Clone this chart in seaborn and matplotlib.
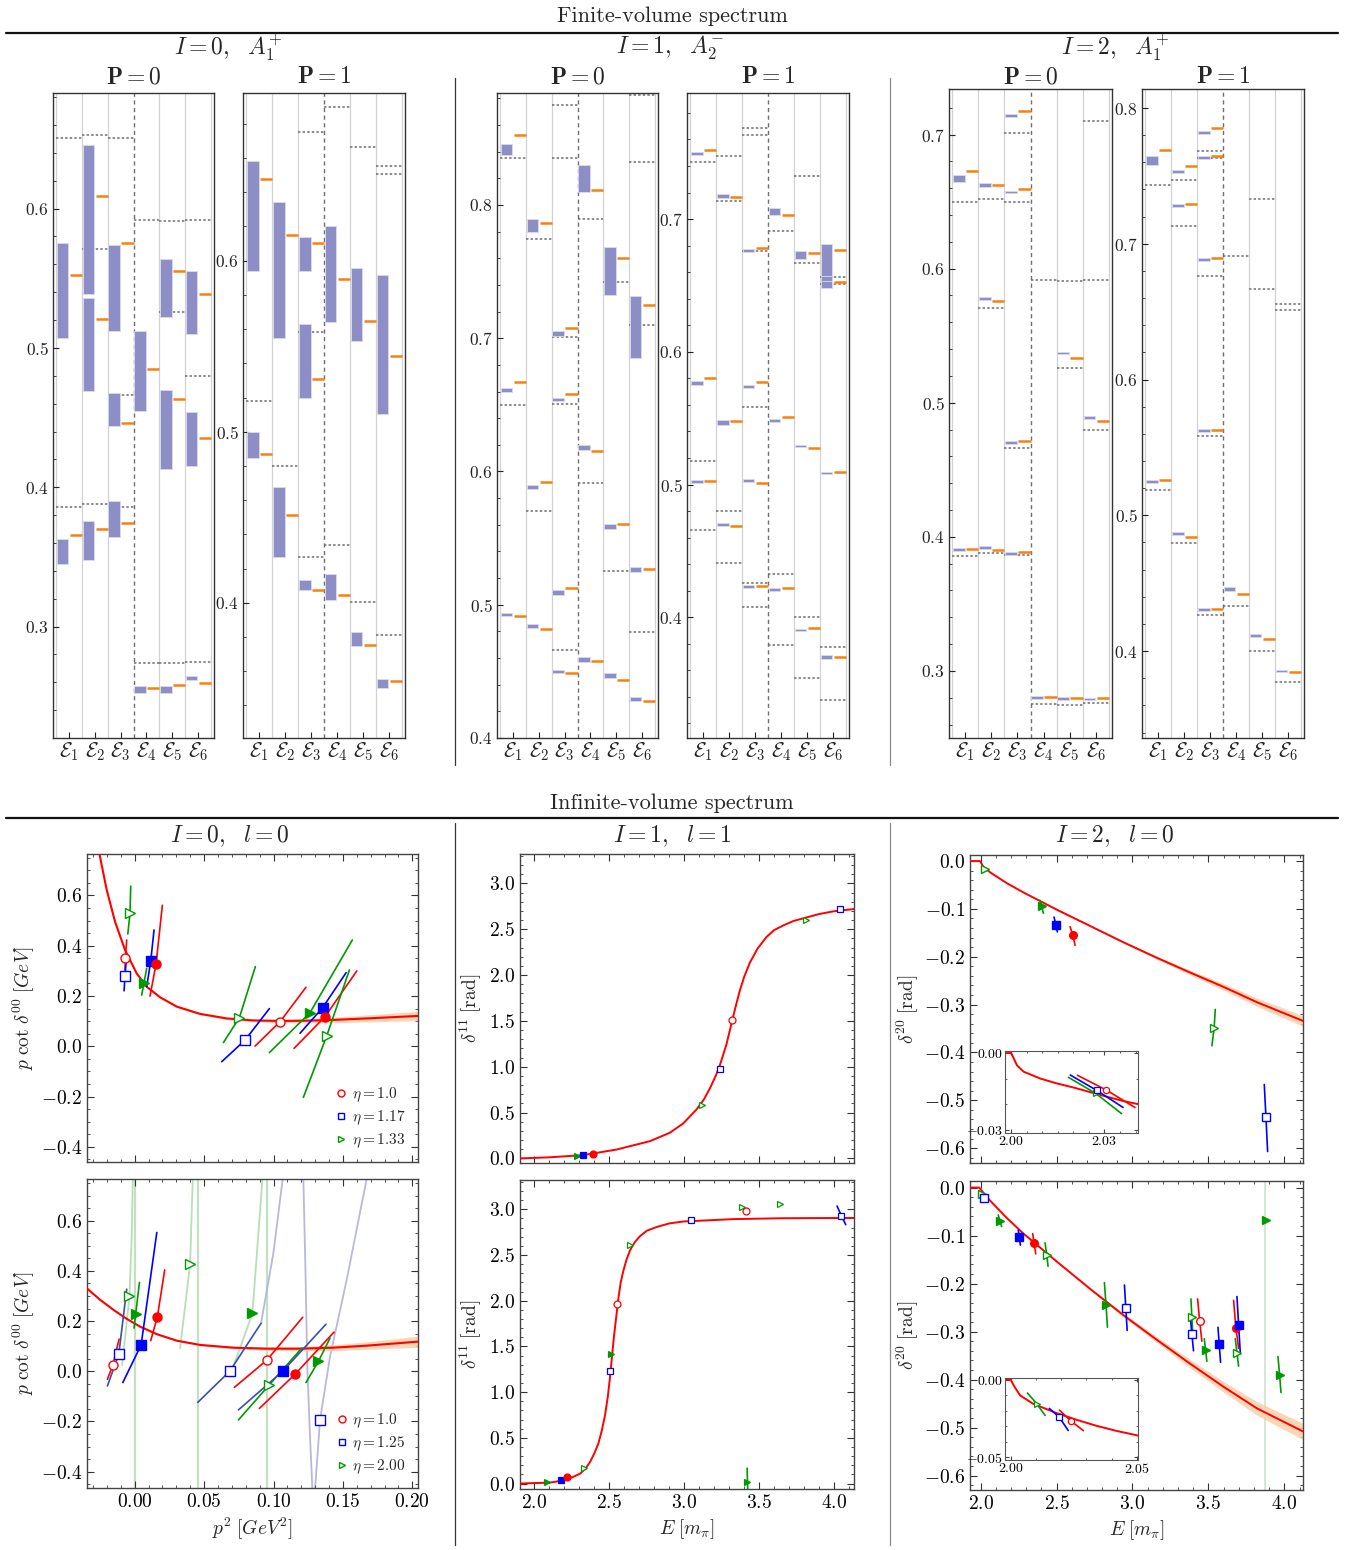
import numpy as np
import matplotlib
matplotlib.use('Agg')
import matplotlib.pyplot as plt
from matplotlib.ticker import MultipleLocator, FuncFormatter, FixedLocator
from matplotlib.lines import Line2D
import seaborn as sns

# ------------------------------------------------------------------
# Finite-volume spectrum: lattice boxes (column, low, high),
# fitted levels (column, value) and free levels (column, value)
# ------------------------------------------------------------------
i0p0_box = [(1, .507, .575), (1, .345, .363),
            (2, .539, .646), (2, .469, .536), (2, .348, .376),
            (3, .512, .574), (3, .444, .468), (3, .364, .390),
            (4, .455, .512), (4, .2525, .257),
            (5, .522, .564), (5, .413, .470), (5, .252, .257),
            (6, .510, .555), (6, .415, .454), (6, .2614, .2643)]
i0p0_fit = [(1, .552), (1, .366), (2, .609), (2, .521), (2, .370),
            (3, .575), (3, .446), (3, .374), (4, .485), (4, .2556),
            (5, .555), (5, .463), (5, .258), (6, .539), (6, .435), (6, .2595)]
i0p0_free = [(1, .651), (1, .386), (2, .6525), (2, .571), (2, .388),
             (3, .651), (3, .466), (3, .386), (4, .592), (4, .274),
             (5, .591), (5, .526), (5, .2736), (6, .592), (6, .480), (6, .2748)]

i0p1_box = [(1, .594, .658), (1, .4846, .500),
            (2, .555, .634), (2, .427, .468),
            (3, .594, .614), (3, .5196, .5632), (3, .4073, .4136),
            (4, .564, .620), (4, .4017, .4171),
            (5, .553, .596), (5, .3748, .383),
            (6, .5105, .5914), (6, .3503, .3556)]
i0p1_fit = [(1, .648), (1, .487), (2, .615), (2, .4513), (3, .6105), (3, .531),
            (3, .4075), (4, .589), (4, .4046), (5, .5646), (5, .3754),
            (6, .5441), (6, .3542)]
i0p1_free = [(1, .518), (2, .480), (3, .675), (3, .5584), (3, .4266),
             (4, .690), (4, .4338), (5, .6664), (5, .4007),
             (6, .6556), (6, .6506), (6, .3811)]

i1p0_box = [(1, .8374, .8456), (1, .6595, .6626), (1, .4912, .4939),
            (2, .7796, .7898), (2, .587, .5901), (2, .4827, .4854),
            (3, .7014, .7054), (3, .653, .6554), (3, .5071, .5109), (3, .4488, .4508),
            (4, .8095, .8303), (4, .6163, .6197), (4, .4571, .4609),
            (5, .7327, .7687), (5, .5565, .5609), (5, .4449, .449),
            (6, .6854, .7316), (6, .5245, .5286), (6, .4279, .4306)]
i1p0_fit = [(1, .8527), (1, .667), (1, .4912), (2, .7867), (2, .5918), (2, .4816),
            (3, .7075), (3, .6582), (3, .5122), (3, .449), (4, .8112), (4, .6156),
            (4, .4575), (5, .7605), (5, .5605), (5, .4435), (6, .7248), (6, .5265),
            (6, .4276)]
i1p0_free = [(1, .835), (1, .650), (2, .7748), (2, .5707),
             (3, .8752), (3, .8354), (3, .701), (3, .6503), (3, .466),
             (4, .7898), (4, .5912), (5, .7422), (5, .5255),
             (6, .8823), (6, .8323), (6, .7102), (6, .4793)]

i1p1_box = [(1, .748, .7507), (1, .575, .5778), (1, .5012, .5032),
            (2, .7157, .7191), (2, .5451, .5485), (2, .4687, .4707),
            (3, .6755, .6775), (3, .5727, .5747), (3, .5022, .5042), (3, .4222, .4242),
            (4, .7031, .7085), (4, .5471, .5495), (4, .4201, .4222),
            (5, .670, .6758), (5, .528, .5301), (5, .3895, .3915),
            (6, .6479, .6813), (6, .653, .6571), (6, .508, .5097), (6, .3687, .3714)]
i1p1_fit = [(1, .7524), (1, .5801), (1, .5029), (2, .717), (2, .5478), (2, .4688),
            (3, .6782), (3, .5771), (3, .5015), (3, .4232), (4, .7034), (4, .5505),
            (4, .4218), (5, .6748), (5, .5274), (5, .3922), (6, .6768), (6, .6523),
            (6, .5093), (6, .3704)]
i1p1_free = [(1, .7429), (1, .5178), (1, .4657), (2, .7477), (2, .7136), (2, .4797),
             (2, .4409), (3, .7688), (3, .7633), (3, .6758), (3, .5584), (3, .4259),
             (3, .4075), (4, .6908), (4, .4327), (4, .3793), (5, .7327), (5, .667),
             (5, .40), (5, .3544), (6, .6564), (6, .651), (6, .3776), (6, .3377)]

i2p0_box = [(1, .6646, .6697), (1, .3894, .3915),
            (2, .6612, .6636), (2, .5763, .5787), (2, .3911, .3932),
            (3, .7128, .7152), (3, .6562, .6582), (3, .4696, .4717), (3, .3867, .3888),
            (4, .2791, .2815), (5, .5362, .5382), (5, .2784, .2808),
            (6, .488, .4901), (6, .2781, .2801)]
i2p0_fit = [(1, .673), (1, .3906), (2, .6626), (2, .5757), (2, .3903),
            (3, .7179), (3, .6596), (3, .4712), (3, .3886), (4, .2805),
            (5, .5332), (5, .2801), (6, .4867), (6, .2795)]
i2p0_free = [(1, .6498), (1, .3856), (2, .6518), (2, .5709), (2, .3883),
             (3, .701), (3, .6501), (3, .4661), (3, .3863), (4, .5912), (4, .2754),
             (5, .5905), (5, .5258), (5, .2744), (6, .7101), (6, .5915), (6, .4796),
             (6, .2761)]

i2p1_box = [(1, .7577, .7647), (1, .5237, .5257),
            (2, .7523, .7547), (2, .7273, .7293), (2, .4855, .4875),
            (3, .7807, .7827), (3, .7623, .7643), (3, .6872, .6892), (3, .5615, .5635),
            (3, .4295, .4315), (4, .4443, .447), (5, .4105, .4125), (6, .3843, .3863)]
i2p1_fit = [(1, .7693), (1, .5257), (2, .757), (2, .7293), (2, .4843),
            (3, .785), (3, .7643), (3, .6897), (3, .5627), (3, .4307),
            (4, .442), (5, .4087), (6, .3843)]
i2p1_free = [(1, .743), (1, .5183), (2, .7473), (2, .7133), (2, .4797),
             (3, .768), (3, .7633), (3, .676), (3, .5587), (3, .4267),
             (4, .6907), (4, .4333), (5, .7327), (5, .6667), (5, .4003),
             (6, .656), (6, .651), (6, .3773)]

eps_labels = [r'$\mathcal{E}_{%d}$' % k for k in range(1, 7)]

# ------------------------------------------------------------------
# Infinite-volume spectrum
# points: (x, y, series, filled); segments: (xa, ya, xb, yb[, colour]) or None
# ------------------------------------------------------------------
# I=0, l=0 (upper)
s00a_fit_x = [-0.0255, -0.0202, -0.0142, -0.0070, 0.0014, 0.0086, 0.0183, 0.0303,
              0.0471, 0.0663, 0.0855, 0.1047, 0.1239, 0.1431, 0.1671, 0.2044]
s00a_fit_y = [0.767, 0.622, 0.496, 0.383, 0.290, 0.237, 0.195, 0.158,
              0.129, 0.111, 0.103, 0.101, 0.102, 0.105, 0.111, 0.121]
s00a_fit_e = [0.0, 0.0, 0.001, 0.002, 0.002, 0.003, 0.003, 0.004,
              0.004, 0.005, 0.006, 0.007, 0.009, 0.011, 0.014, 0.019]
s00a_pts = [(-0.0034, 0.529, 'g', False), (-0.0067, 0.353, 'r', False),
            (-0.0070, 0.280, 'b', False), (0.0115, 0.338, 'b', True),
            (0.0154, 0.329, 'r', True), (0.0067, 0.253, 'g', True),
            (0.0754, 0.114, 'g', False), (0.0795, 0.025, 'b', False),
            (0.1047, 0.098, 'r', False), (0.1263, 0.134, 'g', True),
            (0.1354, 0.154, 'b', True), (0.1371, 0.118, 'r', True),
            (0.1383, 0.041, 'g', False)]
s00a_seg = [(-0.0050, 0.447, -0.0029, 0.637), (-0.0070, 0.304, -0.0058, 0.423),
            (-0.0077, 0.221, -0.0062, 0.337), (0.0086, 0.237, 0.0139, 0.463),
            (0.0110, 0.200, 0.0199, 0.561), (0.0050, 0.204, 0.0086, 0.310),
            (0.0639, 0.015, 0.0869, 0.317), (0.0627, -0.061, 0.0970, 0.150),
            (0.0867, 0.001, 0.1234, 0.235), (0.0970, -0.025, 0.1568, 0.423),
            (0.1191, 0.052, 0.1523, 0.293), (0.1148, -0.008, 0.1600, 0.300),
            (0.1215, -0.203, 0.1547, 0.304)]
s00a_eta = [r'$\eta=1.0$', r'$\eta=1.17$', r'$\eta=1.33$']

# I=0, l=0 (lower)
s00b_fit_x = [-0.0346, -0.025, -0.0154, -0.0058, 0.0038, 0.0159, 0.0303, 0.0471,
              0.0711, 0.0951, 0.119, 0.143, 0.167, 0.204]
s00b_fit_y = [0.331, 0.285, 0.245, 0.209, 0.178, 0.148, 0.122, 0.105,
              0.094, 0.090, 0.090, 0.094, 0.102, 0.118]
s00b_fit_e = [0.002, 0.002, 0.002, 0.002, 0.002, 0.003, 0.003, 0.004,
              0.005, 0.007, 0.009, 0.012, 0.015, 0.022]
s00b_pts = [(-0.0156, 0.027, 'r', False), (-0.0115, 0.068, 'b', False),
            (-0.0038, 0.299, 'g', False), (0.0007, 0.229, 'g', True),
            (0.0046, 0.105, 'b', True), (0.0163, 0.217, 'r', True),
            (0.0399, 0.427, 'g', False), (0.0684, 0.000, 'b', False),
            (0.0848, 0.231, 'g', True), (0.0953, 0.045, 'r', False),
            (0.0968, -0.055, 'g', False), (0.1066, 0.000, 'b', True),
            (0.1155, -0.012, 'r', True), (0.1323, 0.039, 'g', True),
            (0.1335, -0.194, 'b', False)]
s00b_seg = [(-0.0197, -0.032, -0.0113, 0.128), (-0.0197, -0.0585, -0.0058, 0.327, '#3a4fa8'),
            None, (-0.0005, 0.172, 0.0034, 0.354),
            (-0.0086, -0.045, 0.0159, 0.553), (0.0115, 0.122, 0.0216, 0.404),
            None, (0.0454, -0.124, 0.0910, 0.191, '#3a4fa8'),
            None, (0.0718, -0.064, 0.1210, 0.215),
            (0.0747, -0.194, 0.1203, 0.092), (0.0747, -0.154, 0.1378, 0.1875, '#3a4fa8'),
            (0.0898, -0.148, 0.1436, 0.156), (0.1234, -0.045, 0.1407, 0.132),
            None]
s00b_eta = [r'$\eta=1.0$', r'$\eta=1.25$', r'$\eta=2.00$']
s00b_pole_x = [0.0, 0.0459, 0.0956]
s00b_pale_green = [([-0.0091, -0.0038, -0.0022, -0.0014], [0.025, 0.299, 0.537, 0.766]),
                   ([0.0327, 0.0399, 0.0418], [0.092, 0.427, 0.766]),
                   ([0.0711, 0.0848, 0.0920], [0.019, 0.231, 0.766])]
s00b_pale_blue = [([0.0910, 0.0999, 0.1066], [0.191, 0.471, 0.766]),
                  ([0.1215, 0.1230, 0.1244, 0.1263, 0.1280], [0.766, 0.404, 0.005, -0.261, -0.47]),
                  ([0.1299, 0.1335, 0.1407, 0.1527, 0.1671], [-0.47, -0.194, 0.0585, 0.364, 0.766])]

# I=1, l=1
s11a_fit_x = [1.904, 2.10, 2.327, 2.549, 2.771, 2.904, 2.993, 3.082, 3.13, 3.171, 3.21,
              3.238, 3.26, 3.282, 3.305, 3.327, 3.35, 3.371, 3.40, 3.438, 3.49, 3.549,
              3.60, 3.66, 3.73, 3.816, 3.90, 3.993, 4.133]
s11a_fit_y = [0.0, 0.012, 0.036, 0.097, 0.188, 0.28, 0.381, 0.534, 0.64, 0.763, 0.90,
              1.017, 1.13, 1.246, 1.40, 1.55, 1.70, 1.83, 1.98, 2.135, 2.29, 2.415,
              2.49, 2.54, 2.59, 2.628, 2.665, 2.694, 2.72]
s11a_pts = [(2.282, 0.025, 'g', True), (2.322, 0.036, 'b', True), (2.393, 0.046, 'r', True),
            (3.120, 0.580, 'g', False), (3.242, 0.971, 'b', False), (3.322, 1.510, 'r', False),
            (3.816, 2.598, 'g', False), (4.042, 2.720, 'b', False)]
s11b_fit_x = [1.904, 2.104, 2.216, 2.304, 2.34, 2.371, 2.40, 2.427, 2.45, 2.471, 2.49,
              2.504, 2.531, 2.56, 2.575, 2.593, 2.615, 2.638, 2.67, 2.704, 2.75, 2.816,
              2.90, 2.993, 3.327, 3.66, 4.133]
s11b_fit_y = [0.0, 0.01, 0.04, 0.107, 0.16, 0.234, 0.33, 0.438, 0.58, 0.743, 0.95,
              1.151, 1.609, 2.016, 2.19, 2.322, 2.45, 2.55, 2.64, 2.704, 2.765, 2.806,
              2.845, 2.866, 2.892, 2.902, 2.905]
s11b_pts = [(2.087, 0.015, 'g', True), (2.176, 0.041, 'b', True), (2.216, 0.071, 'r', True),
            (2.331, 0.173, 'g', False), (2.504, 1.227, 'b', False), (2.513, 1.415, 'g', True),
            (2.549, 1.965, 'r', False), (2.638, 2.612, 'g', False), (3.042, 2.887, 'b', False),
            (3.384, 3.030, 'g', False), (3.411, 2.979, 'r', False), (3.638, 3.055, 'g', False),
            (4.049, 2.928, 'b', False), (3.422, 0.020, 'g', True)]
s11b_seg = [None] * 12 + [(4.020, 3.035, 4.078, 2.831), (3.420, 0.168, 3.424, -0.07)]

# I=2, l=0
s20a_fit_x = [1.93, 1.996, 2.018, 2.062, 2.171, 2.281, 2.501, 2.721, 2.941, 3.16,
              3.38, 3.6, 3.82, 4.123]
s20a_fit_y = [0.0, 0.0, -0.0117, -0.0234, -0.0459, -0.0654, -0.1015, -0.1356, -0.1698,
              -0.202, -0.233, -0.263, -0.295, -0.334]
s20a_fit_e = [0, 0, 0, 0, 0, 0, 0.0005, 0.001, 0.002, 0.003, 0.005, 0.007, 0.009, 0.011]
s20a_pts = [(2.029, -0.0156, 'g', False), (2.402, -0.0946, 'g', True),
            (2.495, -0.1327, 'b', True), (2.607, -0.155, 'r', True),
            (3.538, -0.348, 'g', False), (3.879, -0.535, 'b', False)]
s20a_seg = [None, (2.391, -0.082, 2.413, -0.109), (2.4835, -0.117, 2.5055, -0.148),
            (2.589, -0.137, 2.622, -0.176), (3.545, -0.31, 3.523, -0.386),
            (3.868, -0.467, 3.890, -0.607)]
s20a_in_x = [1.9982, 2.0, 2.00085, 2.0019, 2.004, 2.0094, 2.0147, 2.0201, 2.0254,
             2.0308, 2.0361, 2.0409]
s20a_in_y = [0.0, 0.0, -0.0022, -0.0049, -0.0073, -0.0100, -0.0119, -0.0135,
             -0.0153, -0.0171, -0.0188, -0.0200]
s20a_in_pts = [(2.0272, -0.0158, 'g', False), (2.0275, -0.0146, 'b', False),
               (2.0305, -0.0144, 'r', False)]
s20a_in_seg = [(2.0184, -0.0095, 2.0355, -0.0237), (2.0190, -0.0086, 2.0360, -0.0213),
               (2.0213, -0.0087, 2.0398, -0.0213)]

s20b_fit_x = [1.93, 1.991, 2.018, 2.062, 2.171, 2.281, 2.501, 2.721, 2.941, 3.16,
              3.38, 3.6, 3.82, 4.123]
s20b_fit_y = [0.0, 0.0, -0.0107, -0.027, -0.063, -0.0956, -0.154, -0.211, -0.266,
              -0.317, -0.367, -0.415, -0.46, -0.508]
s20b_fit_e = [0, 0, 0, 0, 0, 0, 0.001, 0.002, 0.004, 0.006, 0.009, 0.011, 0.014, 0.017]
s20b_pts = [(2.011, -0.0127, 'g', False), (2.024, -0.0224, 'b', False),
            (2.127, -0.069, 'g', True), (2.255, -0.103, 'b', True),
            (2.352, -0.116, 'r', True), (2.435, -0.1395, 'g', False),
            (2.826, -0.245, 'g', True), (2.956, -0.250, 'b', False),
            (3.391, -0.270, 'g', False), (3.391, -0.305, 'b', False),
            (3.442, -0.277, 'r', False), (3.481, -0.3376, 'g', True),
            (3.571, -0.325, 'b', True), (3.681, -0.292, 'r', True),
            (3.699, -0.287, 'b', True), (3.688, -0.344, 'g', False),
            (3.879, -0.067, 'g', True), (3.969, -0.390, 'g', True)]
s20b_seg = [None, None, (2.116, -0.057, 2.138, -0.081), (2.248, -0.089, 2.262, -0.12),
            (2.343, -0.096, 2.363, -0.138), (2.424, -0.115, 2.444, -0.164),
            (2.815, -0.198, 2.835, -0.291), (2.947, -0.203, 2.965, -0.2976),
            (3.385, -0.232, 3.398, -0.31), (3.380, -0.266, 3.402, -0.34),
            (3.429, -0.232, 3.457, -0.32), (3.473, -0.315, 3.490, -0.362),
            (3.563, -0.291, 3.580, -0.364), (3.666, -0.235, 3.699, -0.335),
            (3.688, -0.227, 3.710, -0.344), (3.677, -0.315, 3.699, -0.372),
            None, (3.958, -0.352, 3.978, -0.427)]
s20b_pole_x = 3.875
s20b_in_x = [1.9977, 2.0, 2.0013, 2.0037, 2.009, 2.0183, 2.0262, 2.0341, 2.0421, 2.0506]
s20b_in_y = [0.0, 0.0, -0.004, -0.0101, -0.0156, -0.0216, -0.0259, -0.0298, -0.0331, -0.0361]
s20b_in_pts = [(2.0103, -0.0155, 'g', False), (2.0192, -0.0241, 'b', False),
               (2.0238, -0.0265, 'r', False)]
s20b_in_seg = [(2.0066, -0.0085, 2.0136, -0.023), (2.0153, -0.0185, 2.0228, -0.0328),
               (2.0193, -0.0196, 2.0288, -0.0329)]

# ------------------------------------------------------------------
sns.set_style('white')
plt.rcParams['font.family'] = ['cmr10', 'DejaVu Serif']
plt.rcParams['mathtext.fontset'] = 'cm'
plt.rcParams['axes.unicode_minus'] = False
plt.rcParams['axes.formatter.use_mathtext'] = True

W, H = 1345, 1550
fig = plt.figure(figsize=(W / 100, H / 100), dpi=100)

COL = {'r': '#ff0000', 'b': '#0000ff', 'g': '#009a00'}
MRK = {'r': 'o', 'b': 's', 'g': '>'}
PURPLE = '#8e8ec6'
ORANGE = '#f7810f'
BAND = '#fbcfa8'


def add_ax(x0, x1, y0, y1):
    return fig.add_axes([x0 / W, 1 - y1 / H, (x1 - x0) / W, (y1 - y0) / H])


def fmt(s, bold=False):
    def f(v, p):
        if abs(v) < 1e-9:
            v = 0.0
        t = s % v
        return r'$\mathbf{%s}$' % t if bold else r'$%s$' % t
    return FuncFormatter(f)


def levels_panel(x0, x1, y0, y1, boxes, fits, frees, ylim, title):
    ax = add_ax(x0, x1, y0, y1)
    for c in [0.5, 1.5, 2.5, 4.5, 5.5, 6.5]:
        ax.axvline(c, color='#d2d2d2', lw=0.9, zorder=0)
    ax.axvline(3.5, color='#6e6e6e', lw=1.0, ls=(0, (3, 2.5)), zorder=1)
    for c, y in frees:
        ax.hlines(y, c - 0.5, c + 0.5, colors='#6e6e6e', lw=1.1, linestyles=(0, (1.6, 1.4)), zorder=2)
    cols = np.array([b[0] for b in boxes], dtype=float)
    lo = np.array([b[1] for b in boxes])
    hi = np.array([b[2] for b in boxes])
    ax.bar(cols - 0.47, hi - lo, bottom=lo, width=0.45, align='edge',
           color=PURPLE, edgecolor='#dadaf0', lw=0.6, zorder=3)
    for c, y in fits:
        ax.hlines(y, c + 0.03, c + 0.5, colors=ORANGE, lw=1.8, zorder=4)
    ax.set_xlim(0.38, 6.62)
    ax.set_ylim(*ylim)
    ax.set_xticks(range(1, 7))
    ax.set_xticklabels(eps_labels)
    ax.yaxis.set_major_locator(MultipleLocator(0.1))
    ax.yaxis.set_minor_locator(MultipleLocator(0.02))
    ax.yaxis.set_major_formatter(fmt('%.1f'))
    ax.tick_params(axis='y', which='both', direction='in', left=True, right=False,
                   labelsize=12.5, colors='#222222', pad=3)
    ax.tick_params(axis='y', which='major', length=4, width=0.8)
    ax.tick_params(axis='y', which='minor', length=2.5, width=0.6)
    ax.tick_params(axis='x', direction='in', bottom=True, top=False, length=4,
                   width=0.8, labelsize=15, pad=2, colors='#222222')
    for sp in ax.spines.values():
        sp.set_color('#333333')
        sp.set_linewidth(1.0)
    fig.text((x0 + x1) / 2 / W, 1 - 77 / H, title, ha='center', va='center', fontsize=17)
    return ax


levels_panel(53, 214, 93, 738, i0p0_box, i0p0_fit, i0p0_free, (0.220, 0.683), r'$\mathbf{P=0}$')
levels_panel(243, 405, 93, 738, i0p1_box, i0p1_fit, i0p1_free, (0.321, 0.698), r'$\mathbf{P=1}$')
levels_panel(497, 658, 93, 738, i1p0_box, i1p0_fit, i1p0_free, (0.400, 0.884), r'$\mathbf{P=0}$')
levels_panel(687, 849, 93, 738, i1p1_box, i1p1_fit, i1p1_free, (0.309, 0.795), r'$\mathbf{P=1}$')
levels_panel(949, 1112, 89, 738, i2p0_box, i2p0_fit, i2p0_free, (0.250, 0.734), r'$\mathbf{P=0}$')
levels_panel(1142, 1304, 89, 738, i2p1_box, i2p1_fit, i2p1_free, (0.336, 0.814), r'$\mathbf{P=1}$')


# ------------------------------------------------------------------
def frame(ax, xmaj, xmin, ymaj, ymin, xf, yf, xlabels=True, bold=True, size=14):
    ax.xaxis.set_major_locator(MultipleLocator(xmaj))
    ax.xaxis.set_minor_locator(MultipleLocator(xmin))
    ax.yaxis.set_major_locator(MultipleLocator(ymaj))
    ax.yaxis.set_minor_locator(MultipleLocator(ymin))
    ax.xaxis.set_major_formatter(fmt(xf, bold))
    ax.yaxis.set_major_formatter(fmt(yf, bold))
    ax.tick_params(which='both', direction='in', top=True, right=True, bottom=True,
                   left=True, colors='#333333', labelsize=size, labelcolor='black')
    ax.tick_params(which='major', length=5, width=0.8)
    ax.tick_params(which='minor', length=2.5, width=0.6)
    if not xlabels:
        ax.tick_params(labelbottom=False)
    for sp in ax.spines.values():
        sp.set_color('#444444')
        sp.set_linewidth(1.0)


def fit_curve(ax, fx, fy, fe=None, lw=1.5):
    if fe is not None:
        fx_a, fy_a, fe_a = np.array(fx), np.array(fy), np.array(fe)
        ax.fill_between(fx_a, fy_a - fe_a, fy_a + fe_a, color=BAND, lw=0, alpha=0.85, zorder=1)
    sns.lineplot(x=fx, y=fy, ax=ax, color='#ff0000', lw=lw, sort=False, estimator=None, zorder=3)


def points(ax, pts, segs, ms, lw=1.2, mew=1.0):
    if segs is None:
        segs = [None] * len(pts)
    for (x, y, s, filled), seg in zip(pts, segs):
        if seg is not None:
            c = seg[4] if len(seg) > 4 else COL[s]
            ax.plot([seg[0], x, seg[2]], [seg[1], y, seg[3]], color=c, lw=lw, zorder=4)
        ax.plot(x, y, marker=MRK[s], ms=ms, color=COL[s], mfc=COL[s] if filled else 'white',
                mew=mew, ls='none', zorder=5)


def eta_legend(ax, labels):
    hs = [Line2D([], [], marker=MRK[s], color=COL[s], mfc='white', ls='none', ms=5, mew=1.0)
          for s in ['r', 'b', 'g']]
    ax.legend(hs, labels, loc='lower right', frameon=False, fontsize=11, handlelength=0.8,
              handletextpad=0.3, labelspacing=0.3, borderaxespad=0.4)


# I = 0, l = 0
ax = add_ax(87, 418, 854, 1162)
fit_curve(ax, s00a_fit_x, s00a_fit_y, s00a_fit_e)
points(ax, s00a_pts, s00a_seg, ms=6.5)
ax.set_xlim(-0.0344, 0.2041)
ax.set_ylim(-0.46, 0.765)
frame(ax, 0.05, 0.01, 0.2, 0.05, '%.2f', '%.1f', xlabels=False)
ax.set_ylabel(r'$p\;\cot\,\delta^{00}\;[GeV]$', fontsize=14, labelpad=3)
ax.set_xlabel('')
eta_legend(ax, s00a_eta)

ax = add_ax(87, 418, 1179, 1488)
for xp in s00b_pole_x:
    ax.axvline(xp, color='#a8d4a8', lw=1.6, alpha=0.7, zorder=0)
for px, py in s00b_pale_green:
    ax.plot(px, py, color='#a8d4a8', lw=1.3, alpha=0.8, zorder=0)
for px, py in s00b_pale_blue:
    ax.plot(px, py, color='#b0b0dc', lw=1.3, alpha=0.9, zorder=0)
fit_curve(ax, s00b_fit_x, s00b_fit_y, s00b_fit_e)
points(ax, s00b_pts, s00b_seg, ms=6.5)
ax.set_xlim(-0.0344, 0.2041)
ax.set_ylim(-0.465, 0.766)
frame(ax, 0.05, 0.01, 0.2, 0.05, '%.2f', '%.1f')
ax.set_ylabel(r'$p\;\cot\,\delta^{00}\;[GeV]$', fontsize=14, labelpad=3)
ax.set_xlabel(r'$p^2\;[GeV^2]$', fontsize=14, labelpad=4)
eta_legend(ax, s00b_eta)

# I = 1, l = 1
ax = add_ax(520, 854, 854, 1163)
fit_curve(ax, s11a_fit_x, s11a_fit_y, lw=1.4)
points(ax, s11a_pts, None, ms=5, mew=0.9)
ax.set_xlim(1.904, 4.133)
ax.set_ylim(-0.05, 3.32)
frame(ax, 0.5, 0.1, 0.5, 0.1, '%.1f', '%.1f', xlabels=False)
ax.set_ylabel(r'$\delta^{11}\;[\mathrm{rad}]$', fontsize=14, labelpad=4)
ax.set_xlabel('')

ax = add_ax(520, 854, 1180, 1489)
fit_curve(ax, s11b_fit_x, s11b_fit_y, lw=1.4)
points(ax, s11b_pts, s11b_seg, ms=5, mew=0.9)
ax.set_xlim(1.904, 4.133)
ax.set_ylim(-0.06, 3.32)
frame(ax, 0.5, 0.1, 0.5, 0.1, '%.1f', '%.1f')
ax.set_ylabel(r'$\delta^{11}\;[\mathrm{rad}]$', fontsize=14, labelpad=4)
ax.set_xlabel(r'$E\;[m_\pi]$', fontsize=14, labelpad=4)

# I = 2, l = 0
ax = add_ax(970, 1303, 855, 1163)
fit_curve(ax, s20a_fit_x, s20a_fit_y, s20a_fit_e, lw=1.4)
points(ax, s20a_pts, s20a_seg, ms=5.5)
ax.set_xlim(1.93, 4.123)
ax.set_ylim(-0.631, 0.0127)
frame(ax, 0.5, 0.1, 0.1, 0.02, '%.1f', '%.1f', xlabels=False)
ax.set_ylabel(r'$\delta^{20}\;[\mathrm{rad}]$', fontsize=14, labelpad=2)
ax.set_xlabel('')

ins = add_ax(1005, 1138, 1051, 1133)
sns.lineplot(x=s20a_in_x, y=s20a_in_y, ax=ins, color='#ff0000', lw=1.4, sort=False, estimator=None)
points(ins, s20a_in_pts, s20a_in_seg, ms=4.5, lw=1.2, mew=0.9)
ins.set_xlim(1.998, 2.0408)
ins.set_ylim(-0.0313, 0.0008)
ins.xaxis.set_major_locator(FixedLocator([2.00, 2.03]))
ins.xaxis.set_minor_locator(MultipleLocator(0.005))
ins.yaxis.set_major_locator(FixedLocator([0.0, -0.03]))
ins.yaxis.set_minor_locator(MultipleLocator(0.01))
ins.xaxis.set_major_formatter(fmt('%.2f'))
ins.yaxis.set_major_formatter(fmt('%.2f'))
ins.tick_params(which='both', direction='in', top=True, right=True, bottom=True, left=True,
                labelsize=10, pad=1.5, colors='#444444', labelcolor='black')
ins.tick_params(which='major', length=3)
ins.tick_params(which='minor', length=1.5)
ins.set_xlabel('')
ins.set_ylabel('')
for sp in ins.spines.values():
    sp.set_color('#555555')

ax = add_ax(970, 1303, 1181, 1490)
ax.axvspan(s20b_pole_x - 0.006, s20b_pole_x + 0.006, color='#9fd09f', alpha=0.45, lw=0, zorder=0)
fit_curve(ax, s20b_fit_x, s20b_fit_y, s20b_fit_e, lw=1.4)
points(ax, s20b_pts, s20b_seg, ms=5.5)
ax.set_xlim(1.93, 4.123)
ax.set_ylim(-0.630, 0.0137)
frame(ax, 0.5, 0.1, 0.1, 0.02, '%.1f', '%.1f')
ax.set_ylabel(r'$\delta^{20}\;[\mathrm{rad}]$', fontsize=14, labelpad=2)
ax.set_xlabel(r'$E\;[m_\pi]$', fontsize=14, labelpad=4)

ins = add_ax(1005, 1138, 1378, 1460)
sns.lineplot(x=s20b_in_x, y=s20b_in_y, ax=ins, color='#ff0000', lw=1.4, sort=False, estimator=None)
points(ins, s20b_in_pts, s20b_in_seg, ms=4.5, lw=1.2, mew=0.9)
ins.set_xlim(1.9977, 2.0505)
ins.set_ylim(-0.0519, 0.0012)
ins.xaxis.set_major_locator(FixedLocator([2.00, 2.05]))
ins.xaxis.set_minor_locator(MultipleLocator(0.01))
ins.yaxis.set_major_locator(FixedLocator([0.0, -0.05]))
ins.yaxis.set_minor_locator(MultipleLocator(0.01))
ins.xaxis.set_major_formatter(fmt('%.2f'))
ins.yaxis.set_major_formatter(fmt('%.2f'))
ins.tick_params(which='both', direction='in', top=True, right=True, bottom=True, left=True,
                labelsize=10, pad=1.5, colors='#444444', labelcolor='black')
ins.tick_params(which='major', length=3)
ins.tick_params(which='minor', length=1.5)
ins.set_xlabel('')
ins.set_ylabel('')
for sp in ins.spines.values():
    sp.set_color('#555555')

# ------------------------------------------------------------------
# section titles and separators
def ftext(x, y, s, size=16):
    fig.text(x / W, 1 - y / H, s, ha='center', va='center', fontsize=size)


def fline(xs, ys, lw=0.9, color='#333333'):
    fig.add_artist(Line2D([x / W for x in xs], [1 - y / H for y in ys], color=color, lw=lw))


ftext(672, 16, 'Finite-volume spectrum')
fline([6, 1338], [33, 33], lw=1.6, color='#111111')
ftext(228, 48, r'$I=0,\ \ A_1^{+}$', 17)
ftext(670, 48, r'$I=1,\ \ A_2^{-}$', 17)
ftext(1115, 48, r'$I=2,\ \ A_1^{+}$', 17)
fline([455, 455], [78, 765])
fline([890, 890], [78, 765], color='#888888')

ftext(672, 803, 'Infinite-volume spectrum')
fline([6, 1338], [818, 818], lw=1.6, color='#111111')
ftext(230, 836, r'$I=0,\ \ l=0$', 17)
ftext(672, 836, r'$I=1,\ \ l=1$', 17)
ftext(1115, 836, r'$I=2,\ \ l=0$', 17)
fline([455, 455], [823, 1545])
fline([890, 890], [823, 1545], color='#888888')

fig.savefig('out.png', dpi=100)
